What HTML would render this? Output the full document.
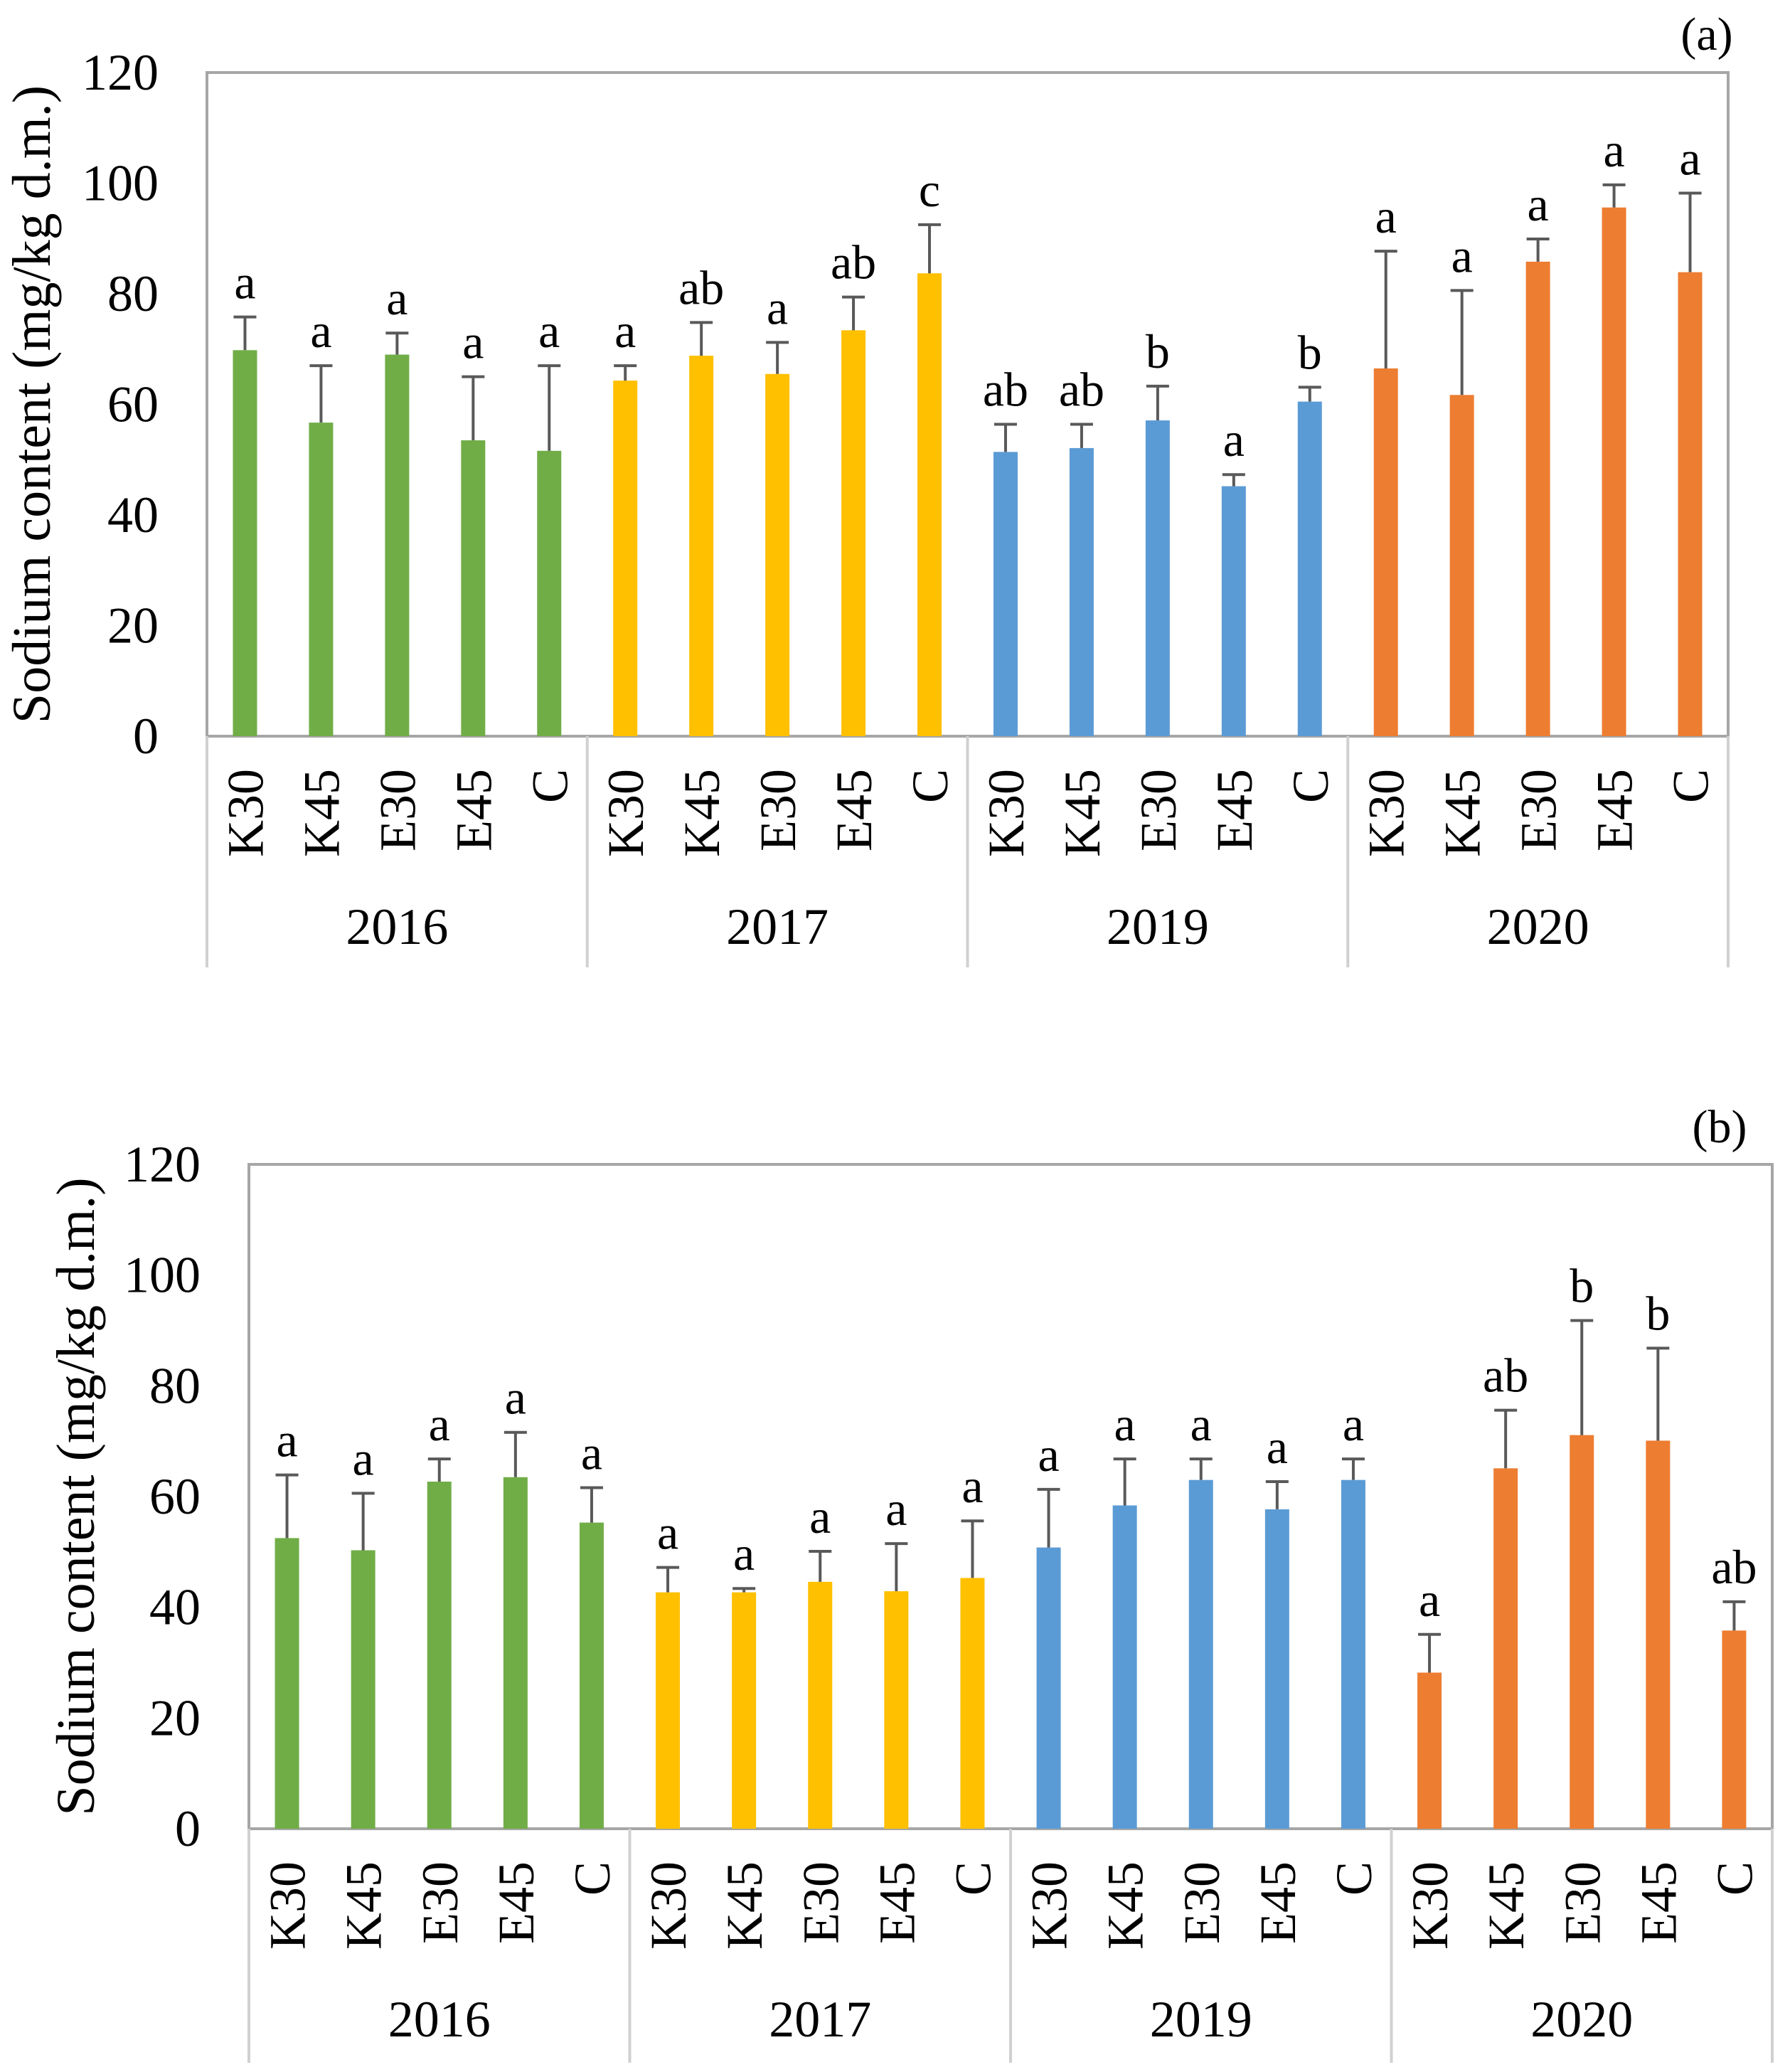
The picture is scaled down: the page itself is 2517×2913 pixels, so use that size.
<!DOCTYPE html>
<html><head><meta charset="utf-8">
<style>
html,body{margin:0;padding:0;background:#fff;}
svg{display:block;font-family:"Liberation Serif",serif;}
</style></head>
<body>
<svg id="chart" width="2517" height="2913" viewBox="0 0 2517 2913" xmlns="http://www.w3.org/2000/svg"></svg>
<script>
const categories = ["K30","K45","E30","E45","C"];
const years = ["2016","2017","2019","2020"];
const yearColors = ["#70AD47","#FFC000","#5B9BD5","#ED7D31"];
const yTicks = [0,20,40,60,80,100,120];
const valuesA = [69.8,56.7,69.0,53.5,51.6, 64.3,68.8,65.5,73.4,83.7, 51.4,52.1,57.1,45.2,60.5, 66.5,61.7,85.8,95.6,83.9];
const errTopA = [75.8,67.0,72.9,65.0,67.0, 67.0,74.8,71.2,79.4,92.5, 56.4,56.4,63.3,47.3,63.1, 87.7,80.6,89.9,99.7,98.2];
const lettersA = ["a","a","a","a","a", "a","ab","a","ab","c", "ab","ab","b","a","b", "a","a","a","a","a"];
const valuesB = [52.5,50.3,62.7,63.5,55.3, 42.7,42.7,44.6,42.9,45.3, 50.8,58.4,63.0,57.7,63.0, 28.2,65.1,71.1,70.1,35.8];
const errTopB = [63.9,60.6,66.8,71.6,61.6, 47.2,43.4,50.1,51.5,55.6, 61.3,66.8,66.8,62.7,66.8, 35.1,75.6,91.8,86.8,41.0];
const lettersB = ["a","a","a","a","a", "a","a","a","a","a", "a","a","a","a","a", "a","ab","b","b","ab"];

const NS="http://www.w3.org/2000/svg";
const svg=document.getElementById('chart');
function mk(tag,attrs,parent,text){
  const e=document.createElementNS(NS,tag);
  for(const k in attrs)e.setAttribute(k,attrs[k]);
  if(text!==undefined)e.textContent=text;
  parent.appendChild(e);return e;
}
function panel(id,cfg,values,errTop,letters){
  const g=mk('g',{},svg);
  
  
  const L=cfg.left,R=cfg.right,T=cfg.top,B=cfg.zero;
  const yMax=120;
  const y=v=>B-(v/yMax)*(B-T);
  const n=values.length;
  const step=(R-L)/n;
  const x=i=>L+step*(i+0.5);
  const fr=mk('rect',{x:L,y:T,width:R-L,height:B-T,fill:'none',stroke:'#A6A6A6','stroke-width':4},g);
  
  
  yTicks.forEach(t=>{
    const tx=mk('text',{x:L-68,y:y(t)+24,'text-anchor':'end','font-size':72,fill:'#000'},g,String(t));
    
    
  });
  const yt=mk('text',{x:0,y:0,'text-anchor':'middle','font-size':76,fill:'#000',transform:`translate(${cfg.titleX},${(T+B)/2}) rotate(-90)`},g,'Sodium content (mg/kg d.m.)');
  
  
  const pl=mk('text',{x:cfg.labelX,y:cfg.labelY,'text-anchor':'middle','font-size':66,fill:'#000'},g,'('+id+')');
  
  
  for(let k=0;k<=years.length;k++){
    const xx=L+k*step*categories.length;
    const ln=mk('line',{x1:xx,x2:xx,y1:B,y2:cfg.divBottom,stroke:'#D0D0D0','stroke-width':4},g);
    
    
  }
  years.forEach((yr,k)=>{
    const cx=L+(k+0.5)*step*categories.length;
    const yl=mk('text',{x:cx,y:B+292,'text-anchor':'middle','font-size':72,fill:'#000'},g,yr);
    
    
  });
  values.forEach((v,i)=>{
    const grp=Math.floor(i/categories.length);
    const cat=categories[i%categories.length];
    const bw=34;
    const bar=mk('rect',{x:x(i)-bw/2,y:y(v),width:bw,height:B-y(v),fill:yearColors[grp]},g);
    
    
    const e=mk('path',{d:`M${x(i)},${y(v)}V${y(errTop[i])}M${x(i)-16},${y(errTop[i])}H${x(i)+16}`,stroke:'#595959','stroke-width':4,fill:'none'},g);
    
    
    const lt=mk('text',{x:x(i),y:y(errTop[i])-26,'text-anchor':'middle','font-size':68,fill:'#000'},g,letters[i]);
    
    
    const cl=mk('text',{x:0,y:0,'text-anchor':'end','font-size':72,fill:'#000',transform:`translate(${x(i)+25},${B+46}) rotate(-90)`},g,cat);
    
    
  });
}
panel('a',{left:291,right:2430,top:102,zero:1035,divBottom:1360,titleX:70,labelX:2400,labelY:70},valuesA,errTopA,lettersA);
panel('b',{left:350,right:2492,top:1637,zero:2571,divBottom:2900,titleX:132,labelX:2418,labelY:1606},valuesB,errTopB,lettersB);
</script>
</body></html>
